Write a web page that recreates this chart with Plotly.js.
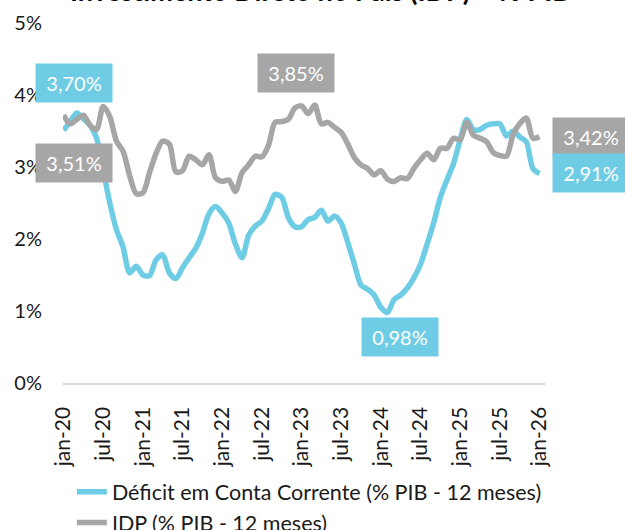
<!DOCTYPE html>
<html>
<head>
<meta charset="utf-8">
<script src="https://cdn.plot.ly/plotly-3.0.1.min.js"></script>
<style>html,body{margin:0;padding:0;background:#fff;}#chart{width:625px;height:530px;}</style>
</head>
<body>
<div id="chart"></div>
<script>
// Months jan-20 .. jan-26 (73 monthly points)
const tickLabels = ['jan-20','jul-20','jan-21','jul-21','jan-22','jul-22','jan-23','jul-23','jan-24','jul-24','jan-25','jul-25','jan-26'];
const yTickLabels = ['0%','1%','2%','3%','4%','5%'];

const deficitCC = [3.51,3.63,3.75,3.67,3.58,3.40,2.96,2.50,2.13,1.89,1.53,1.62,1.50,1.49,1.71,1.78,1.53,1.45,1.60,1.74,1.87,2.08,2.35,2.45,2.36,2.22,1.93,1.74,2.05,2.18,2.25,2.42,2.62,2.58,2.30,2.17,2.17,2.27,2.30,2.40,2.25,2.32,2.22,1.95,1.65,1.36,1.30,1.22,1.05,0.98,1.16,1.22,1.32,1.46,1.65,1.93,2.23,2.58,2.82,3.05,3.38,3.66,3.52,3.52,3.58,3.60,3.60,3.43,3.50,3.42,3.35,2.98,2.91];

const idp = [3.72,3.60,3.66,3.72,3.58,3.52,3.84,3.70,3.36,3.22,2.88,2.63,2.64,2.92,3.19,3.36,3.32,2.93,2.95,3.15,3.10,3.03,3.17,2.85,2.80,2.82,2.66,2.92,3.03,3.15,3.14,3.30,3.62,3.63,3.66,3.82,3.85,3.74,3.86,3.60,3.62,3.55,3.48,3.32,3.13,3.03,2.98,2.89,2.95,2.83,2.80,2.85,2.84,2.98,3.10,3.19,3.10,3.26,3.26,3.40,3.38,3.62,3.44,3.40,3.35,3.20,3.16,3.15,3.45,3.60,3.68,3.40,3.42];

const seriesNames = ['Déficit em Conta Corrente (% PIB - 12 meses)', 'IDP (% PIB - 12 meses)'];
const labelTexts = ['3,70%', '3,51%', '3,85%', '3,42%', '2,91%', '0,98%'];
const titleText = 'Investimento Direto no País (IDP) – % PIB';

const BLUE = '#6ECDE5';
const GRAY = '#A6A6A6';
const FONT = 'Lato, "Open Sans", Arial, sans-serif';

const monthIdx = deficitCC.map((_, i) => i);
const tickVals = tickLabels.map((_, i) => i * 6);
const yTickVals = yTickLabels.map((_, i) => i);
const lastIdx = monthIdx.length - 1;

const traces = [
  {x: monthIdx, y: deficitCC, name: seriesNames[0], type: 'scatter', mode: 'lines',
   line: {color: BLUE, width: 5.5, shape: 'spline', smoothing: 0.8}},
  {x: monthIdx, y: idp, name: seriesNames[1], type: 'scatter', mode: 'lines',
   line: {color: GRAY, width: 5.5, shape: 'spline', smoothing: 0.8}}
];

function box(text, x, y, color, xref) {
  return {text: text, x: x, y: y, xref: xref || 'x', yref: 'y', showarrow: false,
    xanchor: 'center', yanchor: 'middle', bgcolor: color, width: 72, height: 34, borderpad: 2,
    font: {family: FONT, size: 20, color: '#ffffff'}};
}

const annotations = [
  box(labelTexts[0], 1.59, 4.17, BLUE),
  box(labelTexts[1], 1.59, 3.06, GRAY),
  box(labelTexts[2], 35.17, 4.30, GRAY),
  box(labelTexts[3], 1.095, idp[lastIdx], GRAY, 'paper'),
  box(labelTexts[4], 1.095, deficitCC[lastIdx], BLUE, 'paper'),
  box(labelTexts[5], 50.9, 0.64, BLUE),
  {text: '<b>' + titleText + '</b>', x: 0.533, y: 1.04, xref: 'paper', yref: 'paper',
   xanchor: 'center', yanchor: 'bottom', showarrow: false,
   font: {family: FONT, size: 27, color: '#000000'}}
];

const layout = {
  width: 625, height: 530,
  margin: {l: 63, r: 80, t: 23, b: 147, autoexpand: false},
  paper_bgcolor: '#ffffff', plot_bgcolor: '#ffffff',
  font: {family: FONT, size: 20, color: '#1a1a1a'},
  showlegend: true,
  legend: {orientation: 'v', xref: 'container', yref: 'container', x: 0.115, y: 0.111,
           xanchor: 'left', yanchor: 'top', font: {family: FONT, size: 21.5, color: '#1a1a1a'},
           bgcolor: 'rgba(0,0,0,0)', tracegroupgap: 0},
  xaxis: {range: [-0.08, 72.83], tickmode: 'array', tickvals: tickVals, ticktext: tickLabels, tickangle: -90,
          showgrid: false, zeroline: false, showline: true, linecolor: '#D9D9D9', linewidth: 1.5,
          ticks: '', ticklabelstandoff: 14, automargin: false,
          tickfont: {family: FONT, size: 21, color: '#1a1a1a'}},
  yaxis: {range: [0, 5], tickmode: 'array', tickvals: yTickVals, ticktext: yTickLabels, showgrid: false,
          zeroline: false, showline: false, ticks: '', ticklabelstandoff: 20, automargin: false,
          tickfont: {family: FONT, size: 20, color: '#1a1a1a'}},
  annotations: annotations
};

Plotly.newPlot('chart', traces, layout, {displayModeBar: false, staticPlot: true});
</script>
</body>
</html>
